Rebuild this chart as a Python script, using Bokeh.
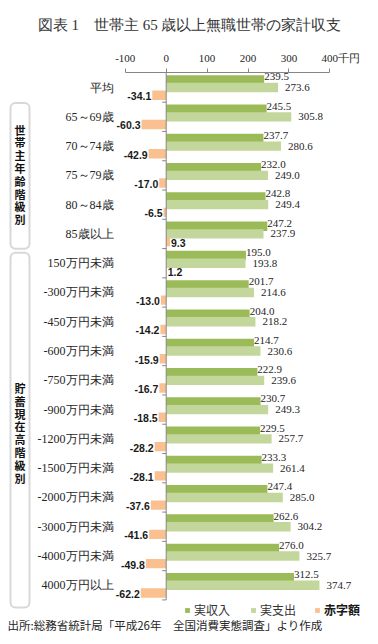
from bokeh.plotting import figure
from bokeh.models import (Range1d, FixedTicker, Label, BoxAnnotation, Legend,
                          LegendItem, ColumnDataSource)
from bokeh.transform import dodge
from bokeh.core.properties import value
from bokeh.embed import file_html
from bokeh.resources import INLINE

# ---------------- data ----------------
categories = ["平均", "65～69歳", "70～74歳", "75～79歳", "80～84歳", "85歳以上",
              "150万円未満", "-300万円未満", "-450万円未満", "-600万円未満",
              "-750万円未満", "-900万円未満", "-1200万円未満", "-1500万円未満",
              "-2000万円未満", "-3000万円未満", "-4000万円未満", "4000万円以上"]
income = [239.5, 245.5, 237.7, 232.0, 242.8, 247.2, 195.0, 201.7, 204.0, 214.7,
          222.9, 230.7, 229.5, 233.3, 247.4, 262.6, 276.0, 312.5]
expenditure = [273.6, 305.8, 280.6, 249.0, 249.4, 237.9, 193.8, 214.6, 218.2, 230.6,
               239.6, 249.3, 257.7, 261.4, 285.0, 304.2, 325.7, 374.7]
deficit = [-34.1, -60.3, -42.9, -17.0, -6.5, 9.3, 1.2, -13.0, -14.2, -15.9,
           -16.7, -18.5, -28.2, -28.1, -37.6, -41.6, -49.8, -62.2]
x_ticks = [-100, 0, 100, 200, 300, 400]
x_tick_labels = ["-100", "0", "100", "200", "300", "\u3000\u3000400千円"]
series_names = ["実収入", "実支出", "赤字額"]
group1 = "世帯主年齢階級別"
group2 = "貯蓄現在高階級別"
title_text = "図表 1　世帯主 65 歳以上無職世帯の家計収支"
source_text = "出所:総務省統計局「平成26年　全国消費実態調査」より作成"

# ---------------- geometry helpers (px -> data) ----------------
X0, SX = 165.7, 0.409      # px of x=0, px per unit
Y0, SY = 86.07, 29.33      # px of first row centre, px per row
def dx(cx):
    return (cx - X0) / SX
def dy(cy):
    return (cy - Y0) / SY

W, H = 378, 644
FT = 71

DG, LG, OR = "#9BBB59", "#C3D69B", "#FAC090"
SERIF = "Liberation Serif"
CJK = "Noto Sans CJK JP"

idx = list(range(len(categories)))
src = ColumnDataSource(dict(
    y=idx, cat=categories, inc=income, exp=expenditure, dfc=deficit,
    inc_lbl=[f"{v:.1f}" for v in income],
    exp_lbl=[f"{v:.1f}" for v in expenditure],
))
neg = [i for i in idx if deficit[i] < 0]
pos = [i for i in idx if deficit[i] >= 0]
src_neg = ColumnDataSource(dict(y=neg, dfc=[deficit[i] for i in neg],
                                lbl=[f"{deficit[i]:.1f}" for i in neg]))
src_pos = ColumnDataSource(dict(y=pos, dfc=[deficit[i] for i in pos],
                                lbl=[f"{deficit[i]:.1f}" for i in pos]))

p = figure(width=W, height=H, output_backend="svg", toolbar_location=None,
           x_range=Range1d(dx(0), dx(W)), y_range=Range1d(dy(H), dy(FT)),
           x_axis_location="above", y_axis_location=None,
           min_border_left=0, min_border_right=0, min_border_top=FT,
           min_border_bottom=0)
p.outline_line_color = None
p.grid.visible = False
p.background_fill_color = "white"

# title (above panel)
p.title.text = title_text
p.title.align = "center"
p.title.vertical_align = "middle"
p.title.offset = -3
p.title.text_font = SERIF
p.title.text_font_size = "15px"
p.title.text_font_style = "normal"
p.title.text_color = "#333333"
p.title.standoff = 30

# top axis
xa = p.xaxis[0]
xa.ticker = FixedTicker(ticks=x_ticks)
xa.major_label_overrides = {t: s for t, s in zip(x_ticks, x_tick_labels)}
xa.bounds = (x_ticks[0], x_ticks[-1])
xa.axis_line_color = "#868686"
xa.major_tick_line_color = "#868686"
xa.major_tick_out = 4
xa.major_tick_in = 0
xa.minor_tick_out = 0
xa.minor_tick_in = 0
xa.major_label_standoff = 5
xa.major_label_text_font = SERIF
xa.major_label_text_font_size = "11px"
xa.major_label_text_color = "#262626"

BH = 0.32
OFF = 0.262
r_inc = p.hbar(y=dodge("y", -OFF, range=p.y_range), left=0, right="inc", height=BH,
               source=src, fill_color=DG, line_color=None)
r_exp = p.hbar(y="y", left=0, right="exp", height=BH, source=src,
               fill_color=LG, line_color=None)
r_def = p.hbar(y=dodge("y", OFF, range=p.y_range), left=0, right="dfc", height=BH,
               source=src, fill_color=OR, line_color=None)

# category labels
p.text(x=dx(113), y="y", text="cat", source=src, text_font=value(SERIF),
       text_font_size="12px", text_color="#262626", text_align="right",
       text_baseline="middle")

# vertical axis line at 0 with category boundary ticks
bounds_y = [i + 0.5 for i in idx]
p.segment(x0=0, y0=dy(FT - 1), x1=0, y1=bounds_y[-1], line_color="#868686", line_width=1)
p.segment(x0=-4 / SX, y0=bounds_y, x1=0, y1=bounds_y, line_color="#868686", line_width=1)

# data labels
p.text(x="inc", y=dodge("y", -OFF, range=p.y_range), text="inc_lbl", source=src,
       text_font=value(SERIF), text_font_size="11px", text_color="#262626",
       text_align="left", text_baseline="middle", x_offset=0, y_offset=-3)
p.text(x="exp", y="y", text="exp_lbl", source=src,
       text_font=value(SERIF), text_font_size="11px", text_color="#262626",
       text_align="left", text_baseline="middle", x_offset=7, y_offset=0)
p.text(x="dfc", y=dodge("y", OFF, range=p.y_range), text="lbl", source=src_neg,
       text_font=value("Liberation Sans"), text_font_size="10.5px",
       text_font_style="bold", text_color="#1a1a1a",
       text_align="right", text_baseline="middle", x_offset=-1, y_offset=1)
p.text(x="dfc", y=dodge("y", OFF, range=p.y_range), text="lbl", source=src_pos,
       text_font=value("Liberation Sans"), text_font_size="10.5px",
       text_font_style="bold", text_color="#1a1a1a",
       text_align="left", text_baseline="middle", x_offset=1, y_offset=1)

# source note
p.add_layout(Label(x=dx(7), y=dy(624), text=source_text, text_font=CJK,
                   text_font_size="11.5px", text_color="#262626",
                   text_align="left", text_baseline="middle"))

# group boxes with vertical text
for (top, bot, tcy, txt) in [(101.5, 247.5, 173.0, group1), (251.5, 607.0, 432.0, group2)]:
    p.add_layout(BoxAnnotation(left=dx(10), right=dx(29), top=dy(top), bottom=dy(bot),
                               fill_color=None, fill_alpha=0, line_color="#7f7f7f",
                               line_width=2, border_radius=5, level="overlay"))
    p.add_layout(Label(x=dx(19.5), y=dy(tcy), text="\n".join(txt), text_font=CJK,
                       text_font_size="11px", text_font_style="bold",
                       text_color="#111111", text_line_height=0.8,
                       text_align="center", text_baseline="middle"))

# legends
def mk_legend(name, r, lx, bold=False):
    lg = Legend(items=[LegendItem(label=name, renderers=[r])], location=(lx, 26),
                orientation="horizontal", glyph_width=6, glyph_height=6,
                label_standoff=4, padding=0, margin=0, border_line_color=None,
                background_fill_alpha=0, label_text_font=CJK,
                label_text_font_size="12px", label_height=14,
                label_text_color="#1a1a1a" if bold else "#333333",
                label_text_font_style="bold" if bold else "normal")
    p.add_layout(lg)

mk_legend(series_names[0], r_inc, 184)
mk_legend(series_names[1], r_exp, 250)
mk_legend(series_names[2], r_def, 314, bold=True)

open("out.html", "w").write(file_html(p, INLINE))
